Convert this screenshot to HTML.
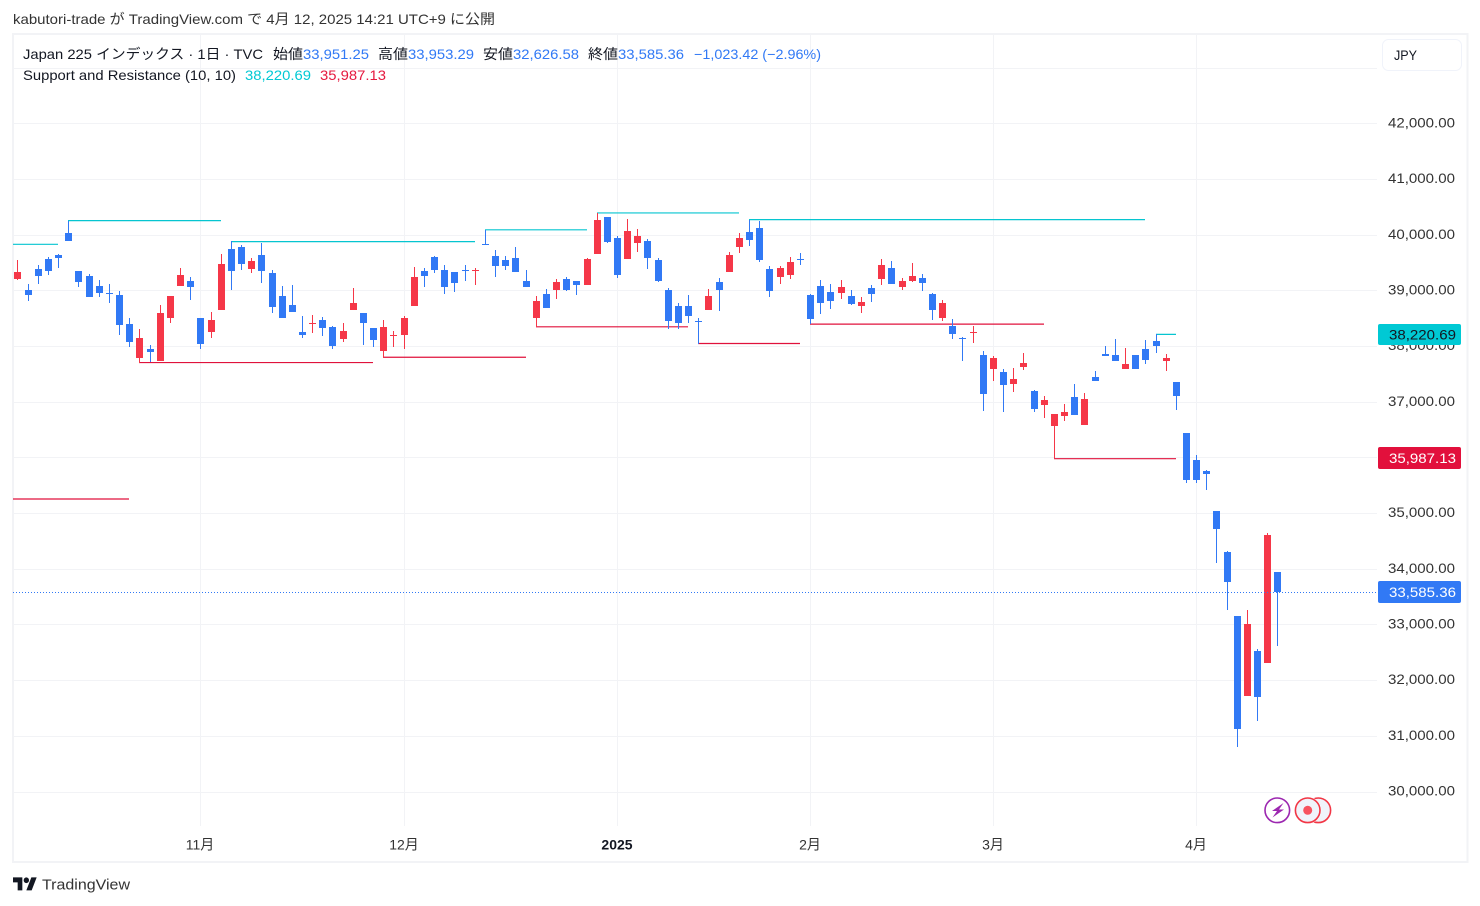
<!DOCTYPE html>
<html lang="ja">
<head>
<meta charset="utf-8">
<title>Japan 225 チャート</title>
<style>
html,body{margin:0;padding:0;background:#fff;width:1480px;height:906px;overflow:hidden}
svg{display:block;position:absolute;left:0;top:0}
text{font-family:"Liberation Sans","Noto Sans CJK JP",sans-serif;font-size:14px;white-space:pre}
</style>
</head>
<body>
<svg id="chart" xmlns="http://www.w3.org/2000/svg" width="1480" height="906" viewBox="0 0 1480 906">
  <rect x="0" y="0" width="1480" height="906" fill="#ffffff"/>
  <text x="13" y="24" fill="#333333" textLength="482" lengthAdjust="spacingAndGlyphs">kabutori-trade が TradingView.com で 4月 12, 2025 14:21 UTC+9 に公開</text>
  <rect x="13" y="34" width="1454.5" height="828" fill="none" stroke="#f2f3f6" stroke-width="2"/>
  <g id="grid"></g>
  <g id="levels"></g>
  <g id="candles"></g>
  <g id="lastline"></g>
  <g id="yaxis"></g>
  <g id="xaxis"></g>

  <g>
    <text x="23" y="59" fill="#131722" textLength="240" lengthAdjust="spacingAndGlyphs">Japan 225 インデックス · 1日 · TVC</text>
    <text x="273" y="59" fill="#131722" textLength="30" lengthAdjust="spacingAndGlyphs">始値</text>
    <text x="303" y="59" fill="#3179f5" textLength="66" lengthAdjust="spacingAndGlyphs">33,951.25</text>
    <text x="378" y="59" fill="#131722" textLength="30" lengthAdjust="spacingAndGlyphs">高値</text>
    <text x="408" y="59" fill="#3179f5" textLength="66" lengthAdjust="spacingAndGlyphs">33,953.29</text>
    <text x="483" y="59" fill="#131722" textLength="30" lengthAdjust="spacingAndGlyphs">安値</text>
    <text x="513" y="59" fill="#3179f5" textLength="66" lengthAdjust="spacingAndGlyphs">32,626.58</text>
    <text x="588" y="59" fill="#131722" textLength="30" lengthAdjust="spacingAndGlyphs">終値</text>
    <text x="618" y="59" fill="#3179f5" textLength="66" lengthAdjust="spacingAndGlyphs">33,585.36</text>
    <text x="694" y="59" fill="#3179f5" textLength="127" lengthAdjust="spacingAndGlyphs">−1,023.42 (−2.96%)</text>
    <text x="23" y="80" fill="#131722" textLength="213" lengthAdjust="spacingAndGlyphs">Support and Resistance (10, 10)</text>
    <text x="245" y="80" fill="#00c9d4" textLength="66" lengthAdjust="spacingAndGlyphs">38,220.69</text>
    <text x="320" y="80" fill="#e5193f" textLength="66" lengthAdjust="spacingAndGlyphs">35,987.13</text>
  </g>

  <g>
    <rect x="1382.5" y="39.5" width="79" height="31" rx="6" fill="#ffffff" stroke="#f0f3fa"/>
    <text x="1394" y="60" fill="#131722" textLength="23" lengthAdjust="spacingAndGlyphs">JPY</text>
  </g>

  <g id="badges">
    <rect x="1378" y="324" width="83" height="21" rx="2" fill="#00c9d4"/>
    <text x="1389" y="339.5" fill="#131722" textLength="67" lengthAdjust="spacingAndGlyphs">38,220.69</text>
    <rect x="1378" y="447" width="83" height="22" rx="2" fill="#e2103c"/>
    <text x="1389" y="463" fill="#ffffff" textLength="67" lengthAdjust="spacingAndGlyphs">35,987.13</text>
    <rect x="1378" y="581" width="83" height="22" rx="2" fill="#3179f5"/>
    <text x="1389" y="597" fill="#ffffff" textLength="67" lengthAdjust="spacingAndGlyphs">33,585.36</text>
  </g>

  <g>
    <circle cx="1277.3" cy="810.3" r="12.3" fill="#ffffff" stroke="#9c27b0" stroke-width="1.6"/>
    <path d="M1283.5 803 L1272 811 L1277 811 L1272.5 817.5 L1284 809.5 L1279 809.5 Z" fill="#9c27b0"/>
    <circle cx="1318.3" cy="810.3" r="12.3" fill="#f0f3fa" stroke="#f23645" stroke-width="1.6"/>
    <circle cx="1307.7" cy="810.3" r="13.6" fill="#ffffff"/>
    <circle cx="1307.7" cy="810.3" r="12.3" fill="#f0f3fa" stroke="#f23645" stroke-width="1.6"/>
    <circle cx="1307.7" cy="810.3" r="4.5" fill="#f7525f"/>
  </g>

  <g>
    <g transform="translate(13 874.5) scale(0.667 0.72)" fill="#131722">
      <path d="M14 22H7V11H0V4h14v18zM28 22h-8l7.5-18h8L28 22z"/>
      <circle cx="20" cy="8" r="4"/>
    </g>
    <text x="42" y="889.5" fill="#333333" style="font-size:15px" textLength="88" lengthAdjust="spacingAndGlyphs">TradingView</text>
  </g>
</svg>

<script>
const opens = [39214,39016,39394,39574,39646,40042,39358,39268,39088,38962,38926,38404,37792,37954,37738,38512,39088,39178,38512,38260,38656,39754,39790,39394,39646,39322,38908,38746,38260,38404,38476,38350,38134,38656,38602,38332,37918,38188,38206,38728,39358,39610,39376,39340,39376,39358,39844,39628,39556,39592,39178,38512,38944,39016,39214,39178,39106,39664,40330,39952,39574,39862,39898,39556,39016,38728,38728,38458,38656,39160,39340,39790,40060,40132,39394,39250,39286,39574,38926,39088,38980,38962,38908,38728,39052,39214,39412,39070,39178,39232,38944,38512,38372,38156,38246,37850,37598,37544,37328,37634,37202,36950,36572,36752,37094,36590,37454,37868,37850,37598,37850,37958,38102,37742,37364,36448,35963,35766,35047,34311,33161,31724,32532,32317,33951.25];
const highs = [39556,39124,39466,39610,39664,40258,39358,39304,39196,39124,38998,38512,38314,38026,38746,38908,39412,39250,38512,38620,39664,39898,39826,39592,39862,39376,39088,39106,38548,38566,38530,38368,38422,39052,38602,38332,38476,38278,38548,39430,39412,39628,39466,39340,39466,39412,40096,39736,39628,39790,39376,38908,39034,39214,39250,39178,39592,40402,40330,39988,40294,40114,39934,39592,39052,38782,38926,38512,39034,39232,39700,40042,40276,40258,39448,39448,39610,39682,38944,39196,39124,39196,39016,38890,39106,39574,39538,39232,39502,39304,38962,38836,38498,38174,38372,37922,37832,37598,37616,37886,37220,37112,36788,36968,37328,37166,37562,38012,38138,37976,37850,38120,38228,37868,37364,36448,36053,35784,35047,34329,33161,33269,32568,34652,33953.29];
const lows = [39196,38818,39124,39286,39412,39898,39070,38890,38890,38782,38206,37990,37708,37720,37738,38422,39088,38836,37954,38152,38656,39016,39376,39322,39142,38602,38512,38620,38152,38242,38188,37954,38080,38656,38026,37990,37792,37990,37954,38728,39070,39322,38944,38980,39178,39106,39826,39250,39376,39340,39070,38350,38692,38854,38998,38926,39106,39664,39862,39232,39574,39700,39394,39160,38314,38314,38422,38056,38656,38638,39340,39682,39808,39520,38890,39124,39214,39466,38404,38584,38674,38854,38746,38602,38800,39106,39124,39016,39160,38998,38476,38458,38138,37742,38066,36842,37382,36824,37184,37580,36824,36716,35996,36662,36770,36590,37382,37832,37742,37598,37598,37688,37886,37562,36860,35550,35550,35425,34113,33269,30808,31724,31275,32317,32626.58];
const closes = [39340,38926,39268,39358,39592,39898,39160,38890,38962,38944,38386,38080,38152,37900,38602,38908,39286,39070,38044,38476,39484,39358,39484,39538,39358,38710,38512,38620,38206,38422,38332,38008,38278,38782,38422,38116,38350,38206,38512,39250,39268,39376,39070,39142,39358,39376,39826,39448,39448,39340,39070,38818,38692,39160,39016,39106,39574,40276,39880,39286,40078,39988,39592,39178,38458,38422,38548,38440,38908,39016,39646,39952,39916,39556,38998,39412,39520,39556,38494,38782,38818,39070,38764,38800,38944,39466,39124,39178,39268,39142,38656,38782,38228,38138,38264,37148,37796,37310,37418,37706,36878,37040,36788,36824,36770,37058,37382,37832,37742,37688,37598,37760,38012,37796,37112,35604,35604,35712,34724,33772,31131,33017,31706,34616,33585.36];

const priceTicks = [42000,41000,40000,39000,38000,37000,36000,35000,34000,33000,32000,31000,30000];
const gridPrices = [43000,42000,41000,40000,39000,38000,37000,36000,35000,34000,33000,32000,31000,30000];
const timeTickBars = [18,38,59,78,96,116];
const timeTickLabels = ['11月','12月','2025','2月','3月','4月'];

const resistanceLevels = [39838,40264,39886,40099,40402,40282,38220.69];
const resistanceStarts = [-1,5,21,46,57,72,112];
const resistanceEnds = [4,20,45,56,71,111,114];
const supportLevels = [35263,37714,37810,38356,38056,38404,35987.13];
const supportStarts = [-1,12,36,51,67,78,102];
const supportEnds = [11,35,50,66,77,101,114];
const lastPrice = 33585.36;

const NS = 'http://www.w3.org/2000/svg';
const BLUE = '#3179f5', RED = '#f53748', GRID = '#f2f3f6';
const PANE_LEFT = 13, PANE_RIGHT = 1377, PANE_BOTTOM = 826;

function yScale(v){ return 235.3 + (40000 - v) * 0.05567; }
function barLeft(i){ return Math.ceil(14 + i * 10.161); }
function barWick(i){ return barLeft(i) + 3; }
function make(tag, attrs, parent){
  const el = document.createElementNS(NS, tag);
  for (const k in attrs) el.setAttribute(k, attrs[k]);
  parent.appendChild(el);
  return el;
}
function fmt(v){ return v.toLocaleString('en-US',{minimumFractionDigits:2,maximumFractionDigits:2}); }

const gridG = document.getElementById('grid');
gridPrices.forEach(function(p){
  const el = make('rect',{x:PANE_LEFT,y:Math.floor(yScale(p)),width:PANE_RIGHT-PANE_LEFT,height:1,fill:GRID},gridG);
  
  
});
timeTickBars.forEach(function(b){
  const el = make('rect',{x:barWick(b),y:34,width:1,height:PANE_BOTTOM-34,fill:GRID},gridG);
  
  
});

const levelsG = document.getElementById('levels');
function drawLevels(levels, starts, ends, color, name){
  levels.forEach(function(lv, k){
    const x1 = Math.max(PANE_LEFT, barWick(starts[k]));
    const x2 = barWick(ends[k]);
    const el = make('line',{x1:x1,x2:x2,y1:yScale(lv),y2:yScale(lv),stroke:color,'stroke-width':1.2},levelsG);
    
    
  });
}
drawLevels(resistanceLevels, resistanceStarts, resistanceEnds, '#06c5d0', 'resistance-line');
drawLevels(supportLevels, supportStarts, supportEnds, '#e0123c', 'support-line');

const candlesG = document.getElementById('candles');
opens.forEach(function(o, i){
  const c = closes[i], up = c > o, color = up ? RED : BLUE;
  const hy = Math.round(yScale(highs[i])), ly = Math.round(yScale(lows[i]));
  const top = Math.round(yScale(Math.max(o, c)));
  const bot = Math.max(top + 1, Math.round(yScale(Math.min(o, c))));
  const wick = make('rect',{x:barWick(i),y:hy,width:1,height:Math.max(1,ly-hy),fill:color,'shape-rendering':'crispEdges'},candlesG);
  
  
  const body = make('rect',{x:barLeft(i),y:top,width:7,height:bot-top,fill:color,'shape-rendering':'crispEdges'},candlesG);
  
  
});

const lastG = document.getElementById('lastline');
const lastLine = make('line',{x1:PANE_LEFT,x2:1378,y1:Math.floor(yScale(lastPrice))+0.5,y2:Math.floor(yScale(lastPrice))+0.5,stroke:BLUE,'stroke-width':1,'stroke-dasharray':'1 2'},lastG);



const yG = document.getElementById('yaxis');
priceTicks.forEach(function(p){
  const t = make('text',{x:1388,y:yScale(p)+3.5,fill:'#333333',textLength:67,lengthAdjust:'spacingAndGlyphs'},yG);
  t.textContent = fmt(p);
  
  
});

const xG = document.getElementById('xaxis');
timeTickBars.forEach(function(b, k){
  const isYear = /^\d{4}$/.test(timeTickLabels[k]);
  const t = make('text',{x:barWick(b),y:849.5,fill:isYear?'#131722':'#333333','text-anchor':'middle'},xG);
  if (isYear) t.setAttribute('font-weight','bold');
  t.textContent = timeTickLabels[k];
  
  
});
</script>
</body>
</html>
